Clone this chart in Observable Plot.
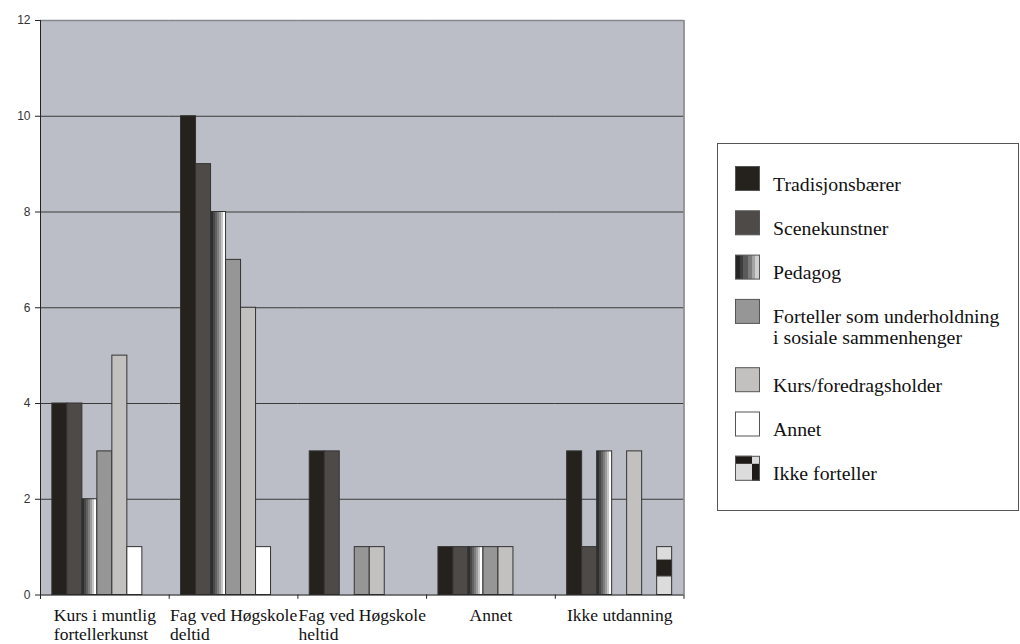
<!DOCTYPE html>
<html>
<head>
<meta charset="utf-8">
<script src="https://cdn.jsdelivr.net/npm/d3@7"></script>
<script src="https://cdn.jsdelivr.net/npm/@observablehq/plot@0.6"></script>
<style>
  body { margin: 0; background: #fff; }
  #wrap { position: relative; width: 1020px; height: 644px; overflow: hidden; }
  #wrap > svg { position: absolute; left: 0; top: 0; }
</style>
</head>
<body>
<svg width="0" height="0" style="position:absolute">
  <defs>
    <linearGradient id="pedGrad" x1="0" x2="1" y1="0" y2="0">
      <stop offset="0" stop-color="#2f2f2f"/><stop offset="0.14" stop-color="#2f2f2f"/>
      <stop offset="0.14" stop-color="#484848"/><stop offset="0.28" stop-color="#484848"/>
      <stop offset="0.28" stop-color="#616161"/><stop offset="0.42" stop-color="#616161"/>
      <stop offset="0.42" stop-color="#7d7d7d"/><stop offset="0.56" stop-color="#7d7d7d"/>
      <stop offset="0.56" stop-color="#9c9c9c"/><stop offset="0.69" stop-color="#9c9c9c"/>
      <stop offset="0.69" stop-color="#c6c6c6"/><stop offset="0.8" stop-color="#c6c6c6"/>
      <stop offset="0.8" stop-color="#ffffff"/><stop offset="1" stop-color="#ffffff"/>
    </linearGradient>
    <linearGradient id="pedGradLegend" x1="0" x2="1" y1="0" y2="0">
      <stop offset="0" stop-color="#262626"/><stop offset="0.17" stop-color="#262626"/>
      <stop offset="0.17" stop-color="#3d3d3d"/><stop offset="0.33" stop-color="#3d3d3d"/>
      <stop offset="0.33" stop-color="#5a5a5a"/><stop offset="0.5" stop-color="#5a5a5a"/>
      <stop offset="0.5" stop-color="#7c7c7c"/><stop offset="0.67" stop-color="#7c7c7c"/>
      <stop offset="0.67" stop-color="#a4a4a4"/><stop offset="0.83" stop-color="#a4a4a4"/>
      <stop offset="0.83" stop-color="#cfcfcf"/><stop offset="1" stop-color="#cfcfcf"/>
    </linearGradient>
    <pattern id="ikkePat" patternUnits="objectBoundingBox" patternContentUnits="objectBoundingBox" width="1" height="1">
      <rect x="0" y="0" width="1" height="1" fill="#dcdcdc"/>
      <rect x="0" y="0.27" width="1" height="0.35" fill="#231f1b"/>
    </pattern>
  </defs>
</svg>
<div id="wrap"></div>
<script>
// ---------- data ----------
const categories = [
  "Kurs i muntlig fortellerkunst",
  "Fag ved Høgskole deltid",
  "Fag ved Høgskole heltid",
  "Annet",
  "Ikke utdanning"
];
const categoryLabels = [
  "Kurs i muntlig\nfortellerkunst",
  "Fag ved Høgskole\ndeltid",
  "Fag ved Høgskole\nheltid",
  "Annet",
  "Ikke utdanning"
];
const series = [
  "Tradisjonsbærer",
  "Scenekunstner",
  "Pedagog",
  "Forteller som underholdning i sosiale sammenhenger",
  "Kurs/foredragsholder",
  "Annet",
  "Ikke forteller"
];
const seriesLegendLabels = [
  "Tradisjonsbærer",
  "Scenekunstner",
  "Pedagog",
  "Forteller som underholdning\ni sosiale sammenhenger",
  "Kurs/foredragsholder",
  "Annet",
  "Ikke forteller"
];
const valuesTradisjonsbaerer = [4, 10, 3, 1, 3];
const valuesScenekunstner    = [4, 9, 3, 1, 1];
const valuesPedagog          = [2, 8, 0, 1, 3];
const valuesForteller        = [3, 7, 1, 1, 0];
const valuesKurs             = [5, 6, 1, 1, 3];
const valuesAnnet            = [1, 1, 0, 0, 0];
const valuesIkkeForteller    = [0, 0, 0, 0, 1];
const yTicks = [0, 2, 4, 6, 8, 10, 12];

const seriesValues = [valuesTradisjonsbaerer, valuesScenekunstner, valuesPedagog,
  valuesForteller, valuesKurs, valuesAnnet, valuesIkkeForteller];
const fills = ["#25221e", "#4e4a47", "url(#pedGrad)", "#969696", "#c2c1bf", "#ffffff", "url(#ikkePat)"];
const legendFills = ["#25221e", "#4e4a47", "url(#pedGradLegend)", "#969696", "#c2c1bf", "#ffffff", null];

const table = categories.flatMap((c, i) =>
  series.map((s, j) => ({category: c, series: s, value: seriesValues[j][i]}))
).filter(d => d.value > 0);

// ---------- layout ----------
const W = 1020, H = 644, ML = 40, MR = 336.5, MT = 20, MB = 49.5;
const fw = (W - ML - MR) / categories.length;
const tickLen = 0.09;
const SERIF = "'Liberation Serif', 'Times New Roman', serif";
const SANS = "'Liberation Sans', Arial, sans-serif";
const BG = "#bbbec6";

const plot = Plot.plot({
  width: W, height: H,
  marginLeft: ML, marginRight: MR, marginTop: MT, marginBottom: MB,
  style: {background: "transparent", fontFamily: SERIF, fontSize: "12px", color: "#333", overflow: "visible"},
  fx: {domain: categories, padding: 0, round: false, axis: null, label: null},
  x: {domain: series, paddingInner: 0, paddingOuter: 0.79, round: false, axis: null, label: null},
  y: {domain: [0, 12], axis: null, label: null},
  color: {domain: series, range: fills},
  marks: [
    Plot.frame({fill: BG, stroke: BG, strokeWidth: 1}),
    Plot.ruleY(yTicks.filter(v => v > 0 && v < 12), {stroke: "#3a3a3a", strokeWidth: 1}),
    Plot.ruleY([12], {stroke: "#85878c", strokeWidth: 1.5}),
    Plot.barY(table, {fx: "category", x: "series", y: "value", fill: "series", stroke: "#333", strokeWidth: 1}),
    Plot.ruleY([0], {stroke: "#222", strokeWidth: 1}),
    // category boundary ticks below the axis
    Plot.ruleX([0], {x: null, y1: -tickLen, y2: 0, dx: -fw / 2, stroke: "#222"}),
    Plot.ruleX([categories[categories.length - 1]], {fx: d => d, x: null, y1: -tickLen, y2: 0, dx: fw / 2, stroke: "#222"}),
    // left axis line
    Plot.ruleX([categories[0]], {fx: d => d, x: null, y1: -tickLen, y2: 12, dx: -fw / 2, stroke: "#222"}),
    // right border
    Plot.ruleX([categories[categories.length - 1]], {fx: d => d, x: null, y1: 0, y2: 12, dx: fw / 2, stroke: "#85878c", strokeWidth: 1.5}),
    Plot.axisY({ticks: yTicks, tickSize: 5, tickPadding: 5, label: null, stroke: "#222", fill: "#333", fontFamily: SANS, fontSize: 12}),
    Plot.text(categories, {
      fx: d => d, text: (d, i) => categoryLabels[i],
      frameAnchor: "bottom", lineAnchor: "top", dy: 12.6,
      fontFamily: SERIF, fontSize: 17.5, lineHeight: 1.08,
      fill: "#111"
    })
  ]
});

const wrap = document.getElementById("wrap");
wrap.appendChild(plot);

// category labels: left-align wrapped lines while keeping the block centred
plot.querySelectorAll('g[aria-label="text"] text').forEach(t => {
  t.style.fontFamily = SERIF;
  const tspans = t.querySelectorAll("tspan");
  if (tspans.length < 2) return;
  const widths = [...tspans].map(s => s.getComputedTextLength());
  const maxW = Math.max(...widths);
  t.setAttribute("text-anchor", "start");
  tspans.forEach(s => s.setAttribute("x", (parseFloat(s.getAttribute("x")) || 0) - maxW / 2));
});
plot.querySelectorAll('g[aria-label="y-axis tick label"] text').forEach(t => { t.style.fontFamily = SANS; });

// ---------- legend ----------
const ns = "http://www.w3.org/2000/svg";
const lg = document.createElementNS(ns, "svg");
lg.setAttribute("width", W); lg.setAttribute("height", H);
lg.style.pointerEvents = "none";
const mk = (tag, attrs, parent) => {
  const e = document.createElementNS(ns, tag);
  for (const k in attrs) e.setAttribute(k, attrs[k]);
  (parent || lg).appendChild(e);
  return e;
};
mk("rect", {x: 717.5, y: 143.5, width: 301, height: 367, fill: "#fff", stroke: "#555", "stroke-width": 1});
series.forEach((s, i) => {
  const top = 166 + i * 44.3 + (i >= 4 ? 24 : 0);
  const sx = 735;
  if (legendFills[i]) {
    mk("rect", {x: sx + 0.5, y: top + 0.5, width: 24, height: 24, fill: legendFills[i], stroke: "#555", "stroke-width": 1});
  } else {
    mk("rect", {x: sx, y: top, width: 25, height: 25, fill: "#dcdcdc"});
    mk("rect", {x: sx, y: top, width: 17, height: 8, fill: "#1e1b18"});
    mk("rect", {x: sx + 17, y: top + 8, width: 8, height: 17, fill: "#1e1b18"});
    mk("rect", {x: sx + 0.5, y: top + 0.5, width: 24, height: 24, fill: "none", stroke: "#555", "stroke-width": 1});
  }
  const lines = seriesLegendLabels[i].split("\n");
  lines.forEach((line, k) => {
    const t = mk("text", {x: 773, y: top + 24.5 + k * 20.5, "font-family": SERIF, "font-size": 19.8, fill: "#111"});
    t.style.fontFamily = SERIF;
    t.textContent = line;
  });
});
wrap.appendChild(lg);
</script>
</body>
</html>
